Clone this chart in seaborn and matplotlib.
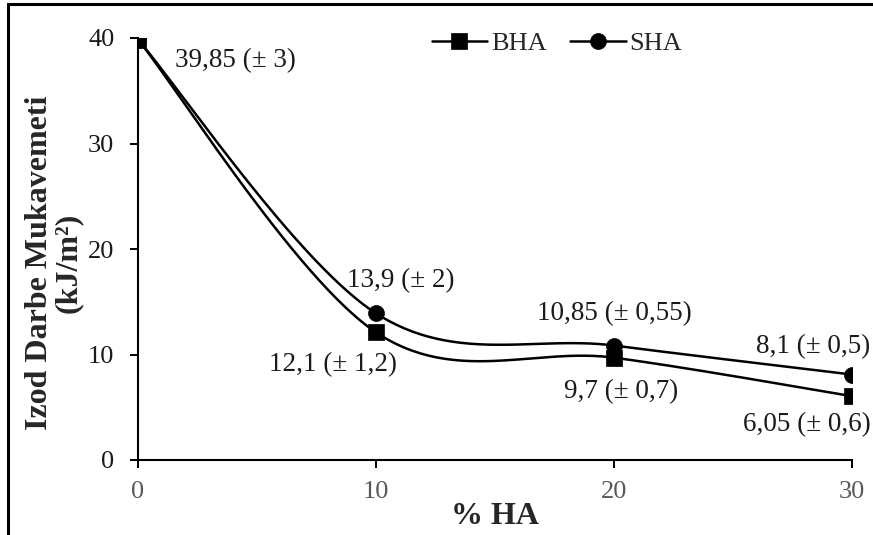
import numpy as np
import pandas as pd
import matplotlib
matplotlib.use("Agg")
import matplotlib.pyplot as plt
from matplotlib.lines import Line2D
from matplotlib.patches import Rectangle
import seaborn as sns

# Izod impact strength vs. hydroxyapatite content
ha_content = [0, 10, 20, 30]
bha_values = [39.85, 12.1, 9.7, 6.05]
bha_errors = [3, 1.2, 0.7, 0.6]
sha_values = [39.85, 13.9, 10.85, 8.1]
sha_errors = [3, 2, 0.55, 0.5]
series_names = ["BHA", "SHA"]
x_ticks = [0, 10, 20, 30]
y_ticks = [0, 10, 20, 30, 40]

sns.set_style("white")
plt.rcParams["font.family"] = ["Liberation Serif", "DejaVu Serif"]


def smooth_curve(xs, ys, n=60):
    """Piecewise cubic Bezier through the points (spreadsheet-style smoothing)."""
    p = np.column_stack([xs, ys]).astype(float)
    ext = np.vstack([p[0], p, p[-1]])
    t = np.linspace(0, 1, n)[:, None]
    out = []
    for i in range(len(p) - 1):
        p0, p3 = p[i], p[i + 1]
        c1 = p0 + (ext[i + 2] - ext[i]) / 6.0
        c2 = p3 - (ext[i + 3] - ext[i + 1]) / 6.0
        seg = ((1 - t) ** 3) * p0 + 3 * ((1 - t) ** 2) * t * c1 \
            + 3 * (1 - t) * t ** 2 * c2 + t ** 3 * p3
        out.append(seg if i == 0 else seg[1:])
    out = np.vstack(out)
    return out[:, 0], out[:, 1]


def fmt(v):
    return f"{v:g}".replace(".", ",")


fig = plt.figure(figsize=(8.73, 5.35), dpi=100)
ax = fig.add_axes([138 / 873, 1 - 460 / 535, (852 - 138) / 873, (460 - 38) / 535])

styles = {"BHA": dict(marker="s", ms=11, z=4), "SHA": dict(marker="o", ms=11.5, z=3)}
data = {"BHA": bha_values, "SHA": sha_values}

for name in series_names:
    sx, sy = smooth_curve(ha_content, data[name])
    curve = pd.DataFrame({"x": sx, "y": sy})
    sns.lineplot(data=curve, x="x", y="y", sort=False, estimator=None,
                 color="black", linewidth=1.8, ax=ax, zorder=styles[name]["z"])
    pts = pd.DataFrame({"x": ha_content, "y": data[name]})
    sns.scatterplot(data=pts, x="x", y="y", marker=styles[name]["marker"],
                    s=styles[name]["ms"] ** 2, color="black", edgecolor="black",
                    linewidth=0.5, ax=ax, zorder=styles[name]["z"] + 2)

# value labels with standard deviation
bha_offsets = [(97, -21), (-43, -32), (7, -34), (-45, -28)]
sha_offsets = [None, (25, 33), (0, 32), (-39, 28)]
label_font = dict(fontsize=19.5, color="#1a1a1a", ha="center", va="center")
for i, x in enumerate(ha_content):
    ax.annotate(f"{fmt(bha_values[i])} (± {fmt(bha_errors[i])})",
                xy=(x, bha_values[i]), xytext=bha_offsets[i],
                textcoords="offset pixels", annotation_clip=False, **label_font)
    if sha_offsets[i] is not None:
        ax.annotate(f"{fmt(sha_values[i])} (± {fmt(sha_errors[i])})",
                    xy=(x, sha_values[i]), xytext=sha_offsets[i],
                    textcoords="offset pixels", annotation_clip=False, **label_font)

ax.set_xlim(0, 30)
ax.set_ylim(0, 40)
ax.set_xticks(x_ticks)
ax.set_yticks(y_ticks)
ax.tick_params(axis="x", direction="out", length=6, width=1.4, colors="black",
               labelcolor="#595959", labelsize=19, pad=9)
ax.tick_params(axis="y", direction="out", length=6, width=1.4, colors="black",
               labelcolor="#1a1a1a", labelsize=19, pad=11)
ax.tick_params(which="both", bottom=True, left=True)
for side in ["top", "right"]:
    ax.spines[side].set_visible(False)
for side in ["left", "bottom"]:
    ax.spines[side].set_linewidth(1.5)
    ax.spines[side].set_color("black")
ax.grid(False)

ax.set_xlabel("")
ax.set_ylabel("")
fig.text(495 / 873, 1 - 516 / 535, "% HA", ha="center", va="center",
         fontsize=23, fontweight="bold")
fig.text(54 / 873, 1 - 263 / 535, "Izod Darbe Mukavemeti\n(kJ/m²)",
         rotation=90, ha="center", va="center", multialignment="center",
         fontsize=23, fontweight="bold", linespacing=1.0)

handles = [Line2D([], [], color="black", lw=1.8, marker=styles[n]["marker"],
                  ms=11 if n == "BHA" else 11.5, markeredgewidth=0.5) for n in series_names]
ax.legend(handles, series_names, loc="center", bbox_to_anchor=(557 / 873, 1 - 43 / 535),
          bbox_transform=fig.transFigure, ncol=2, frameon=False, fontsize=19,
          handlelength=2.1, handletextpad=0.15, columnspacing=0.9, borderaxespad=0)

# outer frame of the chart area
fig.add_artist(Rectangle((8 / 873, -0.2), 1.5, 1.2 - 4 / 535,
                         transform=fig.transFigure, fill=False,
                         edgecolor="black", linewidth=2.2, clip_on=False))

fig.savefig("out.png", dpi=100)
